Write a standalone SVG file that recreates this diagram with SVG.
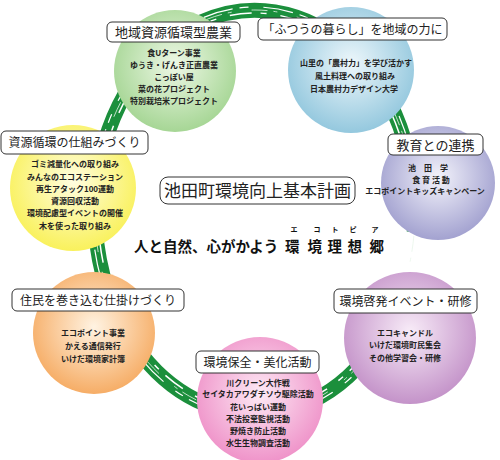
<svg xmlns="http://www.w3.org/2000/svg" width="500" height="460" viewBox="0 0 500 460">
<defs>
<radialGradient id="gGreen" cx="50%" cy="45%" r="55%"><stop offset="0" stop-color="#eef8e6"/><stop offset="1" stop-color="#a6d695"/></radialGradient>
<radialGradient id="gBlue" cx="50%" cy="45%" r="55%"><stop offset="0" stop-color="#eef7fb"/><stop offset="1" stop-color="#94c8de"/></radialGradient>
<radialGradient id="gLav" cx="50%" cy="45%" r="55%"><stop offset="0" stop-color="#f3f3fb"/><stop offset="1" stop-color="#a3a2d0"/></radialGradient>
<radialGradient id="gYellow" cx="50%" cy="45%" r="55%"><stop offset="0" stop-color="#fffde0"/><stop offset="1" stop-color="#f9f15c"/></radialGradient>
<radialGradient id="gOrange" cx="50%" cy="45%" r="55%"><stop offset="0" stop-color="#fff3e2"/><stop offset="1" stop-color="#f6ad66"/></radialGradient>
<radialGradient id="gPurple" cx="50%" cy="45%" r="55%"><stop offset="0" stop-color="#f8ecf8"/><stop offset="1" stop-color="#c493c9"/></radialGradient>
<radialGradient id="gPink" cx="50%" cy="45%" r="55%"><stop offset="0" stop-color="#fdeaf5"/><stop offset="1" stop-color="#ef93c9"/></radialGradient>
</defs>
<style>
text{font-family:"Noto Sans CJK JP","Noto Sans CJK SC",sans-serif;fill:#222}
.lbl{fill:#fff;stroke:#333;stroke-width:1}
.lt{font-size:12px;text-anchor:middle}
.it{font-size:8px;font-weight:bold;text-anchor:middle}
.main{font-size:14.5px;font-weight:bold;fill:#111}
.ruby{font-size:7px;font-weight:bold;text-anchor:middle;fill:#111}
</style>
<rect width="500" height="460" fill="#fff"/>
<g id="connectors">
<path d="M 405.7 280 A 160 202 0 1 1 414.2 232" fill="none" stroke="#1b8f3c" stroke-width="15"/>
<ellipse cx="255" cy="212" rx="157" ry="199" fill="none" stroke="#fff" stroke-width="1.5" stroke-dasharray="22 9 6 14"/>
<ellipse cx="255" cy="212" rx="163" ry="205" fill="none" stroke="#fff" stroke-width="1.2" stroke-dasharray="9 15 30 7"/>
<ellipse cx="255" cy="212" rx="160" ry="202" fill="none" stroke="#e8f5ea" stroke-width="0.8" stroke-dasharray="4 20 16 6"/>
</g>
<g id="n1">
<circle cx="175" cy="71" r="61" fill="url(#gGreen)"/>
<rect class="lbl" x="107" y="22" width="133" height="20" rx="5"/>
<text class="lt" x="173.5" y="37" style="font-size:13px">地域資源循環型農業</text>
<text class="it" x="174" y="56">食Uターン事業</text>
<text class="it" x="174" y="68">ゆうき・げんき正直農業</text>
<text class="it" x="174" y="80">こっぽい屋</text>
<text class="it" x="174" y="92">菜の花プロジェクト</text>
<text class="it" x="174" y="104">特別栽培米プロジェクト</text>
</g>
<g id="n2">
<circle cx="351" cy="70" r="63" fill="url(#gBlue)"/>
<rect class="lbl" x="258" y="18" width="189" height="22" rx="5"/>
<text class="lt" x="352.5" y="33.5">「ふつうの暮らし」を地域の力に</text>
<text class="it" x="356" y="66">山里の「農村力」を学び活かす</text>
<text class="it" x="355" y="79">風土料理への取り組み</text>
<text class="it" x="354" y="92">日本農村力デザイン大学</text>
</g>
<g id="n3">
<circle cx="438" cy="183" r="57" fill="url(#gLav)"/>
<rect class="lbl" x="388" y="134" width="95" height="21" rx="5"/>
<text class="lt" x="435.5" y="149.5" style="font-size:13px">教育との連携</text>
<text class="it" x="428" y="171" xml:space="preserve">池　田　学</text>
<text class="it" x="431" y="183" xml:space="preserve">食 育 活 動</text>
<text class="it" x="425" y="194">エコポイントキッズキャンペーン</text>
</g>
<g id="n4">
<circle cx="73" cy="188" r="63" fill="url(#gYellow)"/>
<rect class="lbl" x="1" y="131" width="147" height="23" rx="5"/>
<text class="lt" x="74.5" y="147">資源循環の仕組みづくり</text>
<text class="it" x="75" y="167">ゴミ減量化への取り組み</text>
<text class="it" x="75" y="180">みんなのエコステーション</text>
<text class="it" x="75" y="192">再生アタック100運動</text>
<text class="it" x="75" y="204">資源回収活動</text>
<text class="it" x="75" y="216">環境配慮型イベントの開催</text>
<text class="it" x="75" y="229">木を使った取り組み</text>
</g>
<g id="n5">
<circle cx="94" cy="333" r="61" fill="url(#gOrange)"/>
<rect class="lbl" x="12" y="289" width="172" height="22" rx="5"/>
<text class="lt" x="98" y="304.5">住民を巻き込む仕掛けづくり</text>
<text class="it" x="93" y="336">エコポイント事業</text>
<text class="it" x="93" y="349">かえる通信発行</text>
<text class="it" x="93" y="362">いけだ環境家計簿</text>
</g>
<g id="n6">
<circle cx="410" cy="338" r="66" fill="url(#gPurple)"/>
<rect class="lbl" x="334" y="289" width="143" height="24" rx="5"/>
<text class="lt" x="405.5" y="305.5">環境啓発イベント・研修</text>
<text class="it" x="405" y="336">エコキャンドル</text>
<text class="it" x="405" y="348">いけだ環境町民集会</text>
<text class="it" x="405" y="361">その他学習会・研修</text>
</g>
<g id="n7">
<circle cx="260" cy="400" r="63" fill="url(#gPink)"/>
<rect class="lbl" x="196" y="351" width="123" height="22" rx="5"/>
<text class="lt" x="257.5" y="366.5">環境保全・美化活動</text>
<text class="it" x="258" y="386">川クリーン大作戦</text>
<text class="it" x="258" y="397">セイタカアワダチソウ駆除活動</text>
<text class="it" x="258" y="410">花いっぱい運動</text>
<text class="it" x="258" y="422">不法投棄監視活動</text>
<text class="it" x="258" y="434">野焼き防止活動</text>
<text class="it" x="258" y="446">水生生物調査活動</text>
</g>
<g id="center">
<rect class="lbl" x="160" y="177" width="195" height="27" rx="8"/>
<text x="257.5" y="197" style="font-size:17px;text-anchor:middle">池田町環境向上基本計画</text>
<text class="main" x="134" y="252">人と自然、心がかよう</text>
<text class="main" x="285 307.5 327.5 347.5 369.5" y="252">環境理想郷</text>
<text class="ruby" x="294 317 335 353 375" y="232">エコトピア</text>
</g>
</svg>
